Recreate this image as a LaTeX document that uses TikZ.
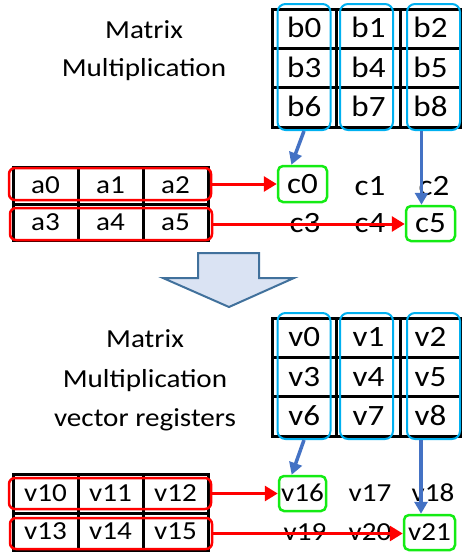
\documentclass[tikz,border=0pt]{standalone}
\usepackage{fontspec}
\setmainfont{Carlito}[FakeStretch=1.12]
\usetikzlibrary{arrows.meta,calc}
\definecolor{colcyan}{RGB}{0,176,240}
\definecolor{arrowblue}{RGB}{68,114,196}
\definecolor{boxgreen}{RGB}{20,235,20}
\definecolor{bigfill}{RGB}{218,227,243}
\definecolor{bigdraw}{RGB}{65,113,156}
\begin{document}
\begin{tikzpicture}[x=1pt,y=-1pt,
  bigtxt/.style={font=\fontsize{29.5}{32}\selectfont, text height=18.5pt, text depth=0pt},
  smalltxt/.style={font=\fontsize{26}{30}\selectfont, text height=16.5pt, text depth=0pt},
  cell/.style={draw=black, line width=3pt, inner sep=0pt, rectangle},
  colbox/.style={draw=colcyan, line width=2pt, rounded corners=8pt, inner sep=0pt,
                 minimum width=53pt, minimum height=126pt},
  rowbox/.style={draw=red, line width=2.5pt, rounded corners=6pt, inner sep=0pt,
                 minimum width=202pt},
  greenbox/.style={draw=boxgreen, line width=2.5pt, rounded corners=5pt, inner sep=0pt},
  redarrow/.style={draw=red, line width=3pt, -{Triangle[length=13pt,width=15pt]}},
  bluearrow/.style={draw=arrowblue, line width=3.5pt, -{Triangle[length=12pt,width=13pt]}},
  titletext/.style={font=\fontsize{26}{30}\selectfont, anchor=base},
  plaintext/.style={inner sep=0pt}]
\useasboundingbox (0,0) rectangle (462,552);

% ---------- titles ----------
\node[titletext] (t1) at (144,38) {Matrix};
\node[titletext] (t2) at (144,76) {Multiplication};
\node[titletext] (t3) at (145,347.5) {Matrix};
\node[titletext] (t4) at (145,387) {Multiplication};
\node[titletext] (t5) at (145,426.5) {vector registers};

% ---------- matrix B ----------
\foreach \r/\y in {0/28.65,1/68,2/107.35}
  \foreach \c/\x/\w in {0/304.25/64.5,1/368.5/64,2/430.5/60}{
    \pgfmathtruncatemacro\k{3*\r+\c}
    \node[cell,bigtxt,minimum width=\w pt,minimum height=39.3pt] (b\k) at (\x,\y) {b\k};
  }
% ---------- matrix A ----------
\foreach \r/\y/\h in {0/185.5/37,1/222/36}
  \foreach \c/\x in {0/45.5,1/110.5,2/175.5}{
    \pgfmathtruncatemacro\k{3*\r+\c}
    \node[cell,smalltxt,minimum width=65pt,minimum height=\h pt] (a\k) at (\x,\y) {a\k};
  }
% ---------- vector registers (right) ----------
\foreach \r/\y in {0/337.65,1/377,2/416.35}
  \foreach \c/\x/\w in {0/304.25/64.5,1/368.5/64,2/430.5/60}{
    \pgfmathtruncatemacro\k{3*\r+\c}
    \node[cell,bigtxt,minimum width=\w pt,minimum height=39.3pt] (v\k) at (\x,\y) {v\k};
  }
% ---------- vector registers (left) ----------
\foreach \r/\y/\h in {0/493.5/39,1/531.5/37}
  \foreach \c/\x in {0/45.5,1/110.5,2/175.5}{
    \pgfmathtruncatemacro\k{10+3*\r+\c}
    \node[cell,smalltxt,minimum width=65pt,minimum height=\h pt] (v\k) at (\x,\y) {v\k};
  }

% ---------- column and row highlights ----------
\node[colbox] (cb0) at (304,67) {};
\node[colbox] (cb1) at (366.5,67) {};
\node[colbox] (cb2) at (433.5,67) {};
\node[colbox] (vb0) at (304,376) {};
\node[colbox] (vb1) at (366.5,376) {};
\node[colbox] (vb2) at (433.5,376) {};

\node[rowbox,minimum height=32pt] (ra0) at (110,184) {};
\node[rowbox,minimum height=32pt] (ra1) at (111,224) {};
\node[rowbox,minimum height=31pt] (va0) at (110,493.5) {};
\node[rowbox,minimum height=31pt] (va1) at (111,533.5) {};

% ---------- result C ----------
\node[greenbox,bigtxt,minimum width=49pt,minimum height=36pt] (c0) at (302.5,184) {c0};
\node[plaintext,bigtxt] (c1) at (370,186) {c1};
\node[plaintext,bigtxt] (c2) at (434,186) {c2};
\node[plaintext,bigtxt] (c3) at (305,223) {c3};
\node[plaintext,bigtxt] (c4) at (370,223) {c4};
\node[greenbox,bigtxt,minimum width=49pt,minimum height=35pt] (c5) at (430.5,223.5) {c5};

% ---------- result registers ----------
\node[greenbox,smalltxt,minimum width=47pt,minimum height=35pt] (v16) at (302.5,493.5) {v16};
\node[plaintext,smalltxt] (v17) at (370,493.5) {v17};
\node[plaintext,smalltxt] (v18) at (433,493.5) {v18};
\node[plaintext,smalltxt] (v19) at (305,532) {v19};
\node[plaintext,smalltxt] (v20) at (370,532) {v20};
\node[greenbox,smalltxt,minimum width=51pt,minimum height=35pt] (v21) at (429.5,532.5) {v21};

% ---------- connectors ----------
\coordinate (c5in) at ($(c5.north)+(-9,0)$);
\coordinate (v21in) at ($(v21.north)+(-8.5,0)$);

\draw[redarrow] (ra0.east) -- (c0.west);
\draw[redarrow] (ra1.east) -- (ra1.east -| c5.west);
\draw[bluearrow] (cb0.south) -- (c0.120);
\draw[bluearrow] (c5in |- cb2.south) -- (c5in);

\draw[redarrow] (va0.east) -- (v16.west);
\draw[redarrow] (va1.east) -- (va1.east -| v21.west);
\draw[bluearrow] (vb0.south) -- (v16.120);
\draw[bluearrow] (v21in |- vb2.south) -- (v21in);

% ---------- block arrow between the two halves ----------
\draw[draw=bigdraw, fill=bigfill, line width=2pt, line join=miter]
  (198,253) -- (259,253) -- (259,278) -- (294,278) -- (229,307)
  -- (163,278) -- (198,278) -- cycle;
\end{tikzpicture}
\end{document}
